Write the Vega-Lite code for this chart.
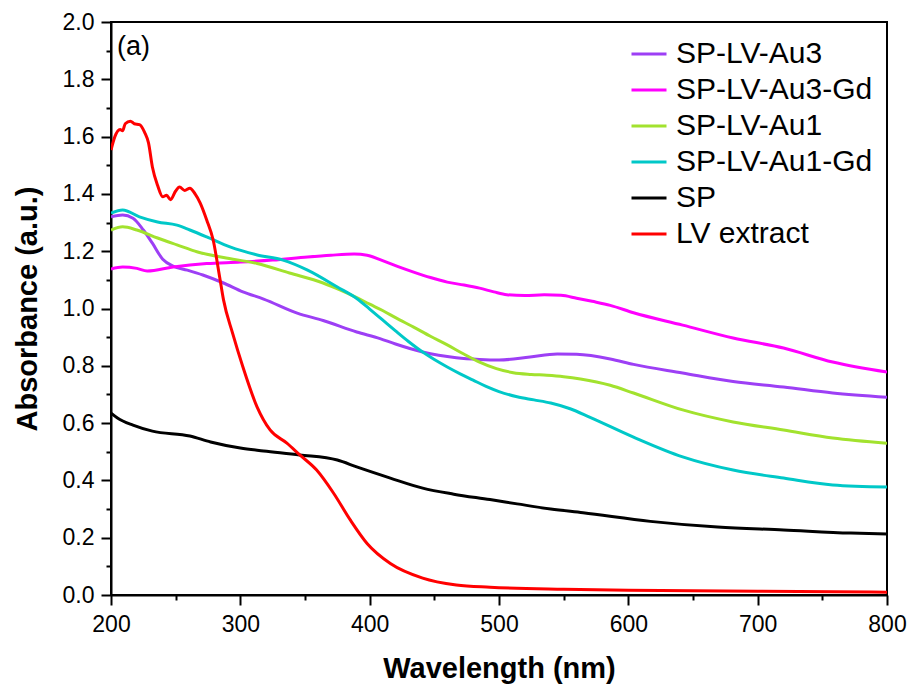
{
  "$schema": "https://vega.github.io/schema/vega-lite/v6.json",
  "width": 776,
  "height": 573,
  "autosize": {"type": "none"},
  "padding": {"left": 111, "top": 22, "right": 23, "bottom": 91},
  "background": "white",
  "config": {
    "view": {"stroke": "black", "strokeWidth": 2},
    "font": "Liberation Sans"
  },
  "title": {"text": "(a)", "anchor": "start", "orient": "top", "frame": "group", "offset": -50, "dx": 6, "fontSize": 27, "fontWeight": "normal", "font": "Liberation Sans", "color": "black"},
  "data": {"values": [
    {"s":"SP-LV-Au3","w":200,"a":1.32},{"s":"SP-LV-Au3","w":209,"a":1.326},{"s":"SP-LV-Au3","w":217,"a":1.315},{"s":"SP-LV-Au3","w":225,"a":1.274},{"s":"SP-LV-Au3","w":232,"a":1.228},{"s":"SP-LV-Au3","w":240,"a":1.172},{"s":"SP-LV-Au3","w":248,"a":1.148},{"s":"SP-LV-Au3","w":259,"a":1.134},{"s":"SP-LV-Au3","w":271,"a":1.117},{"s":"SP-LV-Au3","w":287,"a":1.089},{"s":"SP-LV-Au3","w":302,"a":1.058},{"s":"SP-LV-Au3","w":318,"a":1.033},{"s":"SP-LV-Au3","w":344,"a":0.984},{"s":"SP-LV-Au3","w":364,"a":0.958},{"s":"SP-LV-Au3","w":390,"a":0.918},{"s":"SP-LV-Au3","w":408,"a":0.895},{"s":"SP-LV-Au3","w":420,"a":0.876},{"s":"SP-LV-Au3","w":441,"a":0.848},{"s":"SP-LV-Au3","w":467,"a":0.828},{"s":"SP-LV-Au3","w":485,"a":0.822},{"s":"SP-LV-Au3","w":500,"a":0.82},{"s":"SP-LV-Au3","w":524,"a":0.831},{"s":"SP-LV-Au3","w":545,"a":0.841},{"s":"SP-LV-Au3","w":560,"a":0.84},{"s":"SP-LV-Au3","w":586,"a":0.824},{"s":"SP-LV-Au3","w":604,"a":0.805},{"s":"SP-LV-Au3","w":642,"a":0.775},{"s":"SP-LV-Au3","w":681,"a":0.745},{"s":"SP-LV-Au3","w":720,"a":0.726},{"s":"SP-LV-Au3","w":758,"a":0.705},{"s":"SP-LV-Au3","w":800,"a":0.69},

    {"s":"SP-LV-Au3-Gd","w":200,"a":1.138},{"s":"SP-LV-Au3-Gd","w":209,"a":1.145},{"s":"SP-LV-Au3-Gd","w":220,"a":1.14},{"s":"SP-LV-Au3-Gd","w":228,"a":1.131},{"s":"SP-LV-Au3-Gd","w":248,"a":1.145},{"s":"SP-LV-Au3-Gd","w":274,"a":1.157},{"s":"SP-LV-Au3-Gd","w":300,"a":1.162},{"s":"SP-LV-Au3-Gd","w":325,"a":1.169},{"s":"SP-LV-Au3-Gd","w":352,"a":1.18},{"s":"SP-LV-Au3-Gd","w":370,"a":1.186},{"s":"SP-LV-Au3-Gd","w":388,"a":1.19},{"s":"SP-LV-Au3-Gd","w":398,"a":1.186},{"s":"SP-LV-Au3-Gd","w":410,"a":1.167},{"s":"SP-LV-Au3-Gd","w":422,"a":1.146},{"s":"SP-LV-Au3-Gd","w":434,"a":1.127},{"s":"SP-LV-Au3-Gd","w":447,"a":1.108},{"s":"SP-LV-Au3-Gd","w":460,"a":1.092},{"s":"SP-LV-Au3-Gd","w":473,"a":1.082},{"s":"SP-LV-Au3-Gd","w":485,"a":1.071},{"s":"SP-LV-Au3-Gd","w":496,"a":1.058},{"s":"SP-LV-Au3-Gd","w":506,"a":1.048},{"s":"SP-LV-Au3-Gd","w":520,"a":1.045},{"s":"SP-LV-Au3-Gd","w":535,"a":1.048},{"s":"SP-LV-Au3-Gd","w":548,"a":1.046},{"s":"SP-LV-Au3-Gd","w":560,"a":1.036},{"s":"SP-LV-Au3-Gd","w":572,"a":1.025},{"s":"SP-LV-Au3-Gd","w":586,"a":1.011},{"s":"SP-LV-Au3-Gd","w":604,"a":0.985},{"s":"SP-LV-Au3-Gd","w":642,"a":0.942},{"s":"SP-LV-Au3-Gd","w":681,"a":0.897},{"s":"SP-LV-Au3-Gd","w":720,"a":0.862},{"s":"SP-LV-Au3-Gd","w":758,"a":0.813},{"s":"SP-LV-Au3-Gd","w":800,"a":0.778},

    {"s":"SP-LV-Au1","w":200,"a":1.274},{"s":"SP-LV-Au1","w":209,"a":1.285},{"s":"SP-LV-Au1","w":220,"a":1.274},{"s":"SP-LV-Au1","w":236,"a":1.246},{"s":"SP-LV-Au1","w":251,"a":1.222},{"s":"SP-LV-Au1","w":267,"a":1.197},{"s":"SP-LV-Au1","w":287,"a":1.178},{"s":"SP-LV-Au1","w":313,"a":1.157},{"s":"SP-LV-Au1","w":338,"a":1.124},{"s":"SP-LV-Au1","w":364,"a":1.089},{"s":"SP-LV-Au1","w":377,"a":1.065},{"s":"SP-LV-Au1","w":390,"a":1.038},{"s":"SP-LV-Au1","w":400,"a":1.015},{"s":"SP-LV-Au1","w":410,"a":0.993},{"s":"SP-LV-Au1","w":420,"a":0.968},{"s":"SP-LV-Au1","w":434,"a":0.935},{"s":"SP-LV-Au1","w":447,"a":0.903},{"s":"SP-LV-Au1","w":460,"a":0.873},{"s":"SP-LV-Au1","w":472,"a":0.843},{"s":"SP-LV-Au1","w":485,"a":0.813},{"s":"SP-LV-Au1","w":498,"a":0.79},{"s":"SP-LV-Au1","w":511,"a":0.776},{"s":"SP-LV-Au1","w":525,"a":0.77},{"s":"SP-LV-Au1","w":537,"a":0.767},{"s":"SP-LV-Au1","w":550,"a":0.762},{"s":"SP-LV-Au1","w":563,"a":0.754},{"s":"SP-LV-Au1","w":586,"a":0.732},{"s":"SP-LV-Au1","w":604,"a":0.705},{"s":"SP-LV-Au1","w":642,"a":0.646},{"s":"SP-LV-Au1","w":681,"a":0.604},{"s":"SP-LV-Au1","w":720,"a":0.576},{"s":"SP-LV-Au1","w":758,"a":0.548},{"s":"SP-LV-Au1","w":800,"a":0.53},

    {"s":"SP-LV-Au1-Gd","w":200,"a":1.333},{"s":"SP-LV-Au1-Gd","w":209,"a":1.344},{"s":"SP-LV-Au1-Gd","w":222,"a":1.32},{"s":"SP-LV-Au1-Gd","w":236,"a":1.302},{"s":"SP-LV-Au1-Gd","w":251,"a":1.291},{"s":"SP-LV-Au1-Gd","w":261,"a":1.274},{"s":"SP-LV-Au1-Gd","w":274,"a":1.25},{"s":"SP-LV-Au1-Gd","w":292,"a":1.215},{"s":"SP-LV-Au1-Gd","w":313,"a":1.187},{"s":"SP-LV-Au1-Gd","w":333,"a":1.169},{"s":"SP-LV-Au1-Gd","w":352,"a":1.134},{"s":"SP-LV-Au1-Gd","w":375,"a":1.075},{"s":"SP-LV-Au1-Gd","w":390,"a":1.035},{"s":"SP-LV-Au1-Gd","w":400,"a":0.998},{"s":"SP-LV-Au1-Gd","w":410,"a":0.96},{"s":"SP-LV-Au1-Gd","w":420,"a":0.922},{"s":"SP-LV-Au1-Gd","w":430,"a":0.885},{"s":"SP-LV-Au1-Gd","w":441,"a":0.848},{"s":"SP-LV-Au1-Gd","w":450,"a":0.822},{"s":"SP-LV-Au1-Gd","w":460,"a":0.796},{"s":"SP-LV-Au1-Gd","w":470,"a":0.772},{"s":"SP-LV-Au1-Gd","w":480,"a":0.75},{"s":"SP-LV-Au1-Gd","w":490,"a":0.728},{"s":"SP-LV-Au1-Gd","w":500,"a":0.71},{"s":"SP-LV-Au1-Gd","w":514,"a":0.692},{"s":"SP-LV-Au1-Gd","w":527,"a":0.681},{"s":"SP-LV-Au1-Gd","w":540,"a":0.67},{"s":"SP-LV-Au1-Gd","w":555,"a":0.65},{"s":"SP-LV-Au1-Gd","w":570,"a":0.621},{"s":"SP-LV-Au1-Gd","w":604,"a":0.551},{"s":"SP-LV-Au1-Gd","w":642,"a":0.482},{"s":"SP-LV-Au1-Gd","w":681,"a":0.436},{"s":"SP-LV-Au1-Gd","w":720,"a":0.408},{"s":"SP-LV-Au1-Gd","w":758,"a":0.384},{"s":"SP-LV-Au1-Gd","w":800,"a":0.377},

    {"s":"SP","w":200,"a":0.635},{"s":"SP","w":205,"a":0.618},{"s":"SP","w":217,"a":0.593},{"s":"SP","w":232,"a":0.572},{"s":"SP","w":261,"a":0.555},{"s":"SP","w":277,"a":0.534},{"s":"SP","w":300,"a":0.513},{"s":"SP","w":318,"a":0.503},{"s":"SP","w":346,"a":0.489},{"s":"SP","w":375,"a":0.471},{"s":"SP","w":390,"a":0.447},{"s":"SP","w":416,"a":0.408},{"s":"SP","w":441,"a":0.373},{"s":"SP","w":465,"a":0.352},{"s":"SP","w":493,"a":0.333},{"s":"SP","w":514,"a":0.318},{"s":"SP","w":540,"a":0.3},{"s":"SP","w":565,"a":0.287},{"s":"SP","w":617,"a":0.257},{"s":"SP","w":669,"a":0.237},{"s":"SP","w":720,"a":0.227},{"s":"SP","w":772,"a":0.216},{"s":"SP","w":800,"a":0.213},

    {"s":"LV extract","w":200,"a":1.553},{"s":"LV extract","w":203,"a":1.6},{"s":"LV extract","w":207,"a":1.625},{"s":"LV extract","w":209,"a":1.62},{"s":"LV extract","w":211,"a":1.645},{"s":"LV extract","w":215,"a":1.654},{"s":"LV extract","w":218,"a":1.645},{"s":"LV extract","w":222,"a":1.642},{"s":"LV extract","w":226,"a":1.615},{"s":"LV extract","w":229,"a":1.578},{"s":"LV extract","w":232,"a":1.494},{"s":"LV extract","w":236,"a":1.43},{"s":"LV extract","w":240,"a":1.39},{"s":"LV extract","w":243,"a":1.395},{"s":"LV extract","w":246,"a":1.38},{"s":"LV extract","w":250,"a":1.41},{"s":"LV extract","w":253,"a":1.424},{"s":"LV extract","w":257,"a":1.412},{"s":"LV extract","w":261,"a":1.42},{"s":"LV extract","w":265,"a":1.4},{"s":"LV extract","w":269,"a":1.368},{"s":"LV extract","w":274,"a":1.309},{"s":"LV extract","w":279,"a":1.239},{"s":"LV extract","w":284,"a":1.11},{"s":"LV extract","w":287,"a":1.03},{"s":"LV extract","w":294,"a":0.914},{"s":"LV extract","w":302,"a":0.796},{"s":"LV extract","w":313,"a":0.656},{"s":"LV extract","w":323,"a":0.576},{"s":"LV extract","w":336,"a":0.53},{"s":"LV extract","w":346,"a":0.489},{"s":"LV extract","w":359,"a":0.436},{"s":"LV extract","w":372,"a":0.356},{"s":"LV extract","w":385,"a":0.262},{"s":"LV extract","w":398,"a":0.18},{"s":"LV extract","w":416,"a":0.11},{"s":"LV extract","w":441,"a":0.059},{"s":"LV extract","w":467,"a":0.035},{"s":"LV extract","w":493,"a":0.027},{"s":"LV extract","w":550,"a":0.02},{"s":"LV extract","w":600,"a":0.017},{"s":"LV extract","w":700,"a":0.013},{"s":"LV extract","w":800,"a":0.01}
  ]},
  "mark": {"type": "line", "strokeWidth": 3, "interpolate": "monotone", "clip": true},
  "encoding": {
    "x": {"field": "w", "type": "quantitative", "scale": {"domain": [200, 800], "nice": false, "zero": false},
      "axis": {"title": "Wavelength (nm)", "titleFontSize": 29, "titleFontWeight": "bold", "titlePadding": 18, "titleColor": "black", "titleFont": "Liberation Sans",
        "values": [200,250,300,350,400,450,500,550,600,650,700,750,800],
        "labelExpr": "datum.value % 100 == 0 ? datum.label : ''",
        "grid": false, "domainColor": "black", "domainWidth": 2, "tickColor": "black", "tickWidth": 2,
        "tickSize": {"condition": {"test": "datum.value % 100 != 0", "value": 5}, "value": 10},
        "labelFontSize": 23, "labelColor": "black", "labelFont": "Liberation Sans", "labelPadding": 8, "labelOverlap": false, "labelFlush": false}},
    "y": {"field": "a", "type": "quantitative", "scale": {"domain": [0, 2], "nice": false},
      "axis": {"title": "Absorbance (a.u.)", "titleFontSize": 29, "titleFontWeight": "bold", "titlePadding": 20, "titleColor": "black", "titleFont": "Liberation Sans",
        "values": [0,0.1,0.2,0.3,0.4,0.5,0.6,0.7,0.8,0.9,1,1.1,1.2,1.3,1.4,1.5,1.6,1.7,1.8,1.9,2],
        "format": ".1f",
        "labelExpr": "round(datum.value*10) % 2 == 0 ? datum.label : ''",
        "grid": false, "domainColor": "black", "domainWidth": 2, "tickColor": "black", "tickWidth": 2,
        "tickSize": {"condition": {"test": "round(datum.value*10) % 2 != 0", "value": 5}, "value": 10},
        "labelFontSize": 23, "labelColor": "black", "labelFont": "Liberation Sans", "labelPadding": 7, "labelOverlap": false, "labelFlush": false}},
    "color": {"field": "s", "type": "nominal",
      "scale": {"domain": ["SP-LV-Au3","SP-LV-Au3-Gd","SP-LV-Au1","SP-LV-Au1-Gd","SP","LV extract"],
                "range": ["#9D3FF5","#FF00FF","#A2E22E","#00C8C8","#000000","#FF0000"]},
      "legend": {"title": null, "orient": "none", "legendX": 519, "legendY": 13, "symbolType": "stroke", "symbolSize": 1225, "symbolStrokeWidth": 3, "labelFontSize": 30, "labelFont": "Liberation Sans", "labelColor": "black", "rowPadding": 2, "labelOffset": 8, "labelLimit": 400}}
  }
}
